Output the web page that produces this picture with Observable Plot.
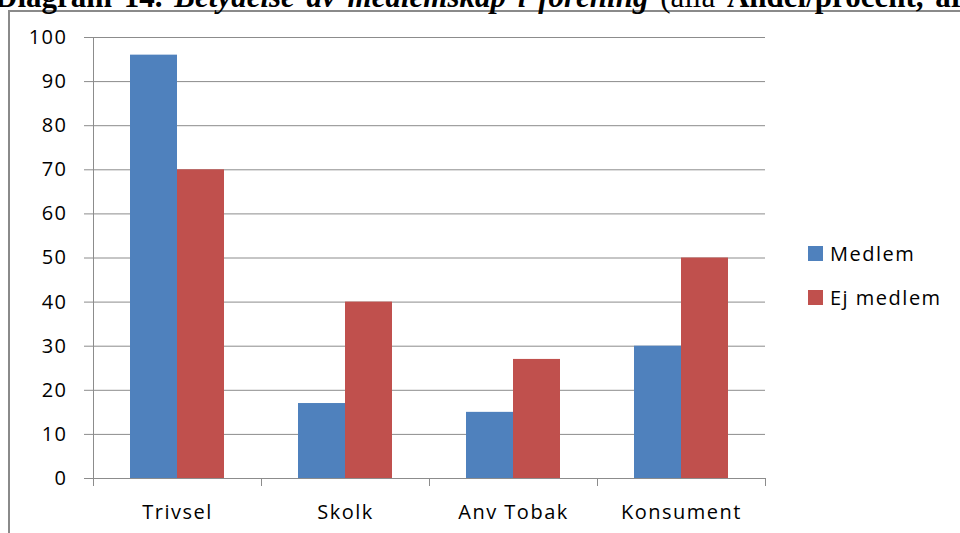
<!DOCTYPE html>
<html><head><meta charset="utf-8">
<script src="https://cdn.jsdelivr.net/npm/d3@7"></script>
<script src="https://cdn.jsdelivr.net/npm/@observablehq/plot@0.6"></script>
<style>
body{margin:0;background:#fff;}
#wrap{position:relative;width:960px;height:533px;overflow:hidden;font-family:"Open Sans",sans-serif;background:#fff;}
#title{position:absolute;left:-5px;top:-19px;white-space:nowrap;font-family:"Liberation Serif","Times New Roman",serif;font-size:31px;line-height:1;word-spacing:4px;color:#000;}
#frame{position:absolute;left:8px;top:10px;width:1000px;height:600px;border-left:2px solid #8a8a8a;border-top:2px solid #8a8a8a;}
#chart{position:absolute;left:0;top:0;}
#legend{position:absolute;left:808px;top:231px;font-size:20px;letter-spacing:1.5px;color:#000;}
.item{display:flex;align-items:center;height:44px;}
.sw{width:15px;height:15px;margin-right:7px;}
</style></head>
<body>
<div id="wrap">
  <div id="frame"></div>
  <div id="title"><b>Diagram 14.</b> <b><i>Betydelse av medlemskap i förening</i></b> (alla <b>Andel/procent, år</b></div>
  <div id="chart"></div>
  <div id="legend"></div>
</div>
<script>
const categories = ["Trivsel", "Skolk", "Anv Tobak", "Konsument"];
const series = ["Medlem", "Ej medlem"];
const medlem = [96, 17, 15, 30];
const ejMedlem = [70, 40, 27, 50];
const yTicks = [0, 10, 20, 30, 40, 50, 60, 70, 80, 90, 100];
const colors = ["#4F81BD", "#C0504D"];

const data = [];
categories.forEach((c, i) => {
  data.push({category: c, series: series[0], value: medlem[i]});
  data.push({category: c, series: series[1], value: ejMedlem[i]});
});

const grid = "#8c8c8c";
const chart = Plot.plot({
  width: 960, height: 533,
  marginTop: 37, marginBottom: 55, marginLeft: 91, marginRight: 194,
  style: {fontFamily: "'Open Sans', sans-serif", fontSize: "20px", letterSpacing: "1.5px", color: "#000", background: "transparent"},
  fx: {domain: categories, padding: 0, label: null, axis: null},
  x: {domain: series, paddingInner: 0, paddingOuter: 0.758, axis: null},
  y: {domain: [0, 100], label: null, axis: null},
  color: {domain: series, range: colors},
  marks: [
    Plot.gridY(yTicks, {stroke: grid, strokeOpacity: 1}),
    Plot.barY(data, {fx: "category", x: "series", y: "value", fill: "series"}),
    Plot.ruleY([0], {stroke: grid}),
    Plot.axisY(yTicks, {tickSize: 9, tickPadding: 17, stroke: grid, fill: "#000", label: null}),
    Plot.axisFx({anchor: "bottom", tickSize: 0, tickPadding: 26, fill: "#000", label: null})
  ]
});
document.getElementById("chart").appendChild(chart);

// category boundary ticks and left axis line, positioned from the plot's own scales
const fx = chart.scale("fx"), y = chart.scale("y");
const svg = d3.select(chart);
const bounds = categories.map(c => fx.apply(c)).concat([fx.apply(categories[categories.length - 1]) + fx.bandwidth]);
const y0 = y.apply(0), y100 = y.apply(100);
const g = svg.append("g").attr("stroke", grid).attr("stroke-width", 1);
g.append("line").attr("x1", bounds[0] + 0.5).attr("x2", bounds[0] + 0.5).attr("y1", y100).attr("y2", y0);
g.selectAll(".bt").data(bounds).join("line")
  .attr("x1", d => Math.round(d) + 0.5).attr("x2", d => Math.round(d) + 0.5)
  .attr("y1", y0).attr("y2", y0 + 8);

// legend
const legend = d3.select("#legend");
series.forEach((s, i) => {
  const it = legend.append("div").attr("class", "item");
  it.append("div").attr("class", "sw").style("background", colors[i]);
  it.append("span").text(s);
});
</script>
</body></html>
